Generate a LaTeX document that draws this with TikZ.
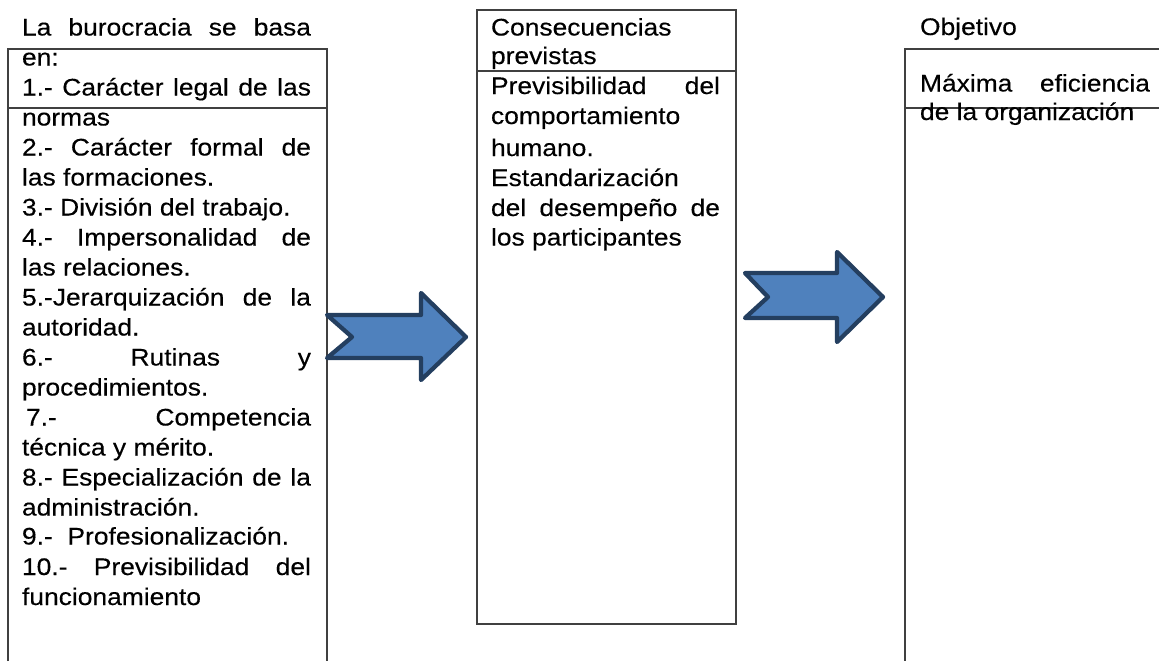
\documentclass[tikz,border=0pt]{standalone}
\usepackage{fontspec}
\setmainfont{Liberation Sans}[FakeStretch=1.1,FakeBold=0.3]
\definecolor{arrowfill}{HTML}{4F81BD}
\definecolor{arrowedge}{HTML}{243F60}
\definecolor{linegray}{HTML}{404040}
\newcommand\bodyfont{\fontsize{18pt}{21pt}\selectfont}
\newcommand\jl[1]{\makebox[216.75pt][s]{#1}}
\newcommand\jm[1]{\makebox[171.75pt][s]{#1}}
\newcommand\jr[1]{\makebox[172.5pt][s]{#1}}
\tikzset{
  boxline/.style={draw=linegray, line width=0.9pt},
  txt/.style={anchor=base west, inner sep=0pt, outer sep=0pt, font=\bodyfont, text=black},
  bigarrow/.style={fill=arrowfill, draw=arrowedge, line width=3.2pt, line join=round}
}
\begin{document}
\begin{tikzpicture}[x=0.75pt, y=-0.75pt]
\useasboundingbox (0,0) rectangle (1159,661);
% boxes
\draw[boxline] (8,661) -- (8,49) -- (327,49) -- (327,661);
\draw[boxline] (8,108) -- (327,108);
\draw[boxline] (477,10) rectangle (736,624);
\draw[boxline] (477,71) -- (736,71);
\draw[boxline] (1159,49) -- (905,49) -- (905,661);
\draw[boxline] (905,108) -- (1159,108);
% arrows
\draw[bigarrow] (327,315) -- (421,315) -- (421,293) -- (466,337) -- (421,380) -- (421,358) -- (327,358) -- (352,337) -- cycle;
\draw[bigarrow] (745,273) -- (837,273) -- (837,252) -- (883,297) -- (837,342) -- (837,318) -- (745,318) -- (768,297) -- cycle;
% left column
\node[txt] (l0) at (22,35.5) {\jl{La burocracia se basa}};
\node[txt] (l1) at (22,65.5) {en:};
\node[txt] (l2) at (22,95.5) {\jl{1.- Carácter legal de las}};
\node[txt] (l3) at (22,125.5) {normas};
\node[txt] (l4) at (22,155.5) {\jl{2.- Carácter formal de}};
\node[txt] (l5) at (22,185.5) {las formaciones.};
\node[txt] (l6) at (22,215.5) {3.- División del trabajo.};
\node[txt] (l7) at (22,245.5) {\jl{4.- Impersonalidad de}};
\node[txt] (l8) at (22,275.5) {las relaciones.};
\node[txt] (l9) at (22,305.5) {\jl{5.-Jerarquización de la}};
\node[txt] (l10) at (22,335.5) {autoridad.};
\node[txt] (l11) at (22,365.5) {\jl{6.- Rutinas y}};
\node[txt] (l12) at (22,395.5) {procedimientos.};
\node[txt] (l13) at (26,425.5) {\makebox[213.75pt][s]{7.- Competencia}};
\node[txt] (l14) at (22,455.5) {técnica y mérito.};
\node[txt] (l15) at (22,485.5) {\jl{8.- Especialización de la}};
\node[txt] (l16) at (22,515.5) {administración.};
\node[txt] (l17) at (22,544.5) {9.-\ \ Profesionalización.};
\node[txt] (l18) at (22,575) {\jl{10.- Previsibilidad del}};
\node[txt] (l19) at (22,605) {funcionamiento};
% middle column
\node[txt] (m0) at (491,35.5) {Consecuencias};
\node[txt] (m1) at (491,64) {previstas};
\node[txt] (m2) at (491,94) {\jm{Previsibilidad del}};
\node[txt] (m3) at (491,124) {comportamiento};
\node[txt] (m4) at (491,156) {humano.};
\node[txt] (m5) at (491,186) {Estandarización};
\node[txt] (m6) at (491,216) {\jm{del desempeño de}};
\node[txt] (m7) at (491,245.5) {los participantes};
% right column
\node[txt] (r0) at (920,35) {Objetivo};
\node[txt] (r1) at (920,91.5) {\jr{Máxima eficiencia}};
\node[txt] (r2) at (920,120) {de la organización};
\end{tikzpicture}
\end{document}
